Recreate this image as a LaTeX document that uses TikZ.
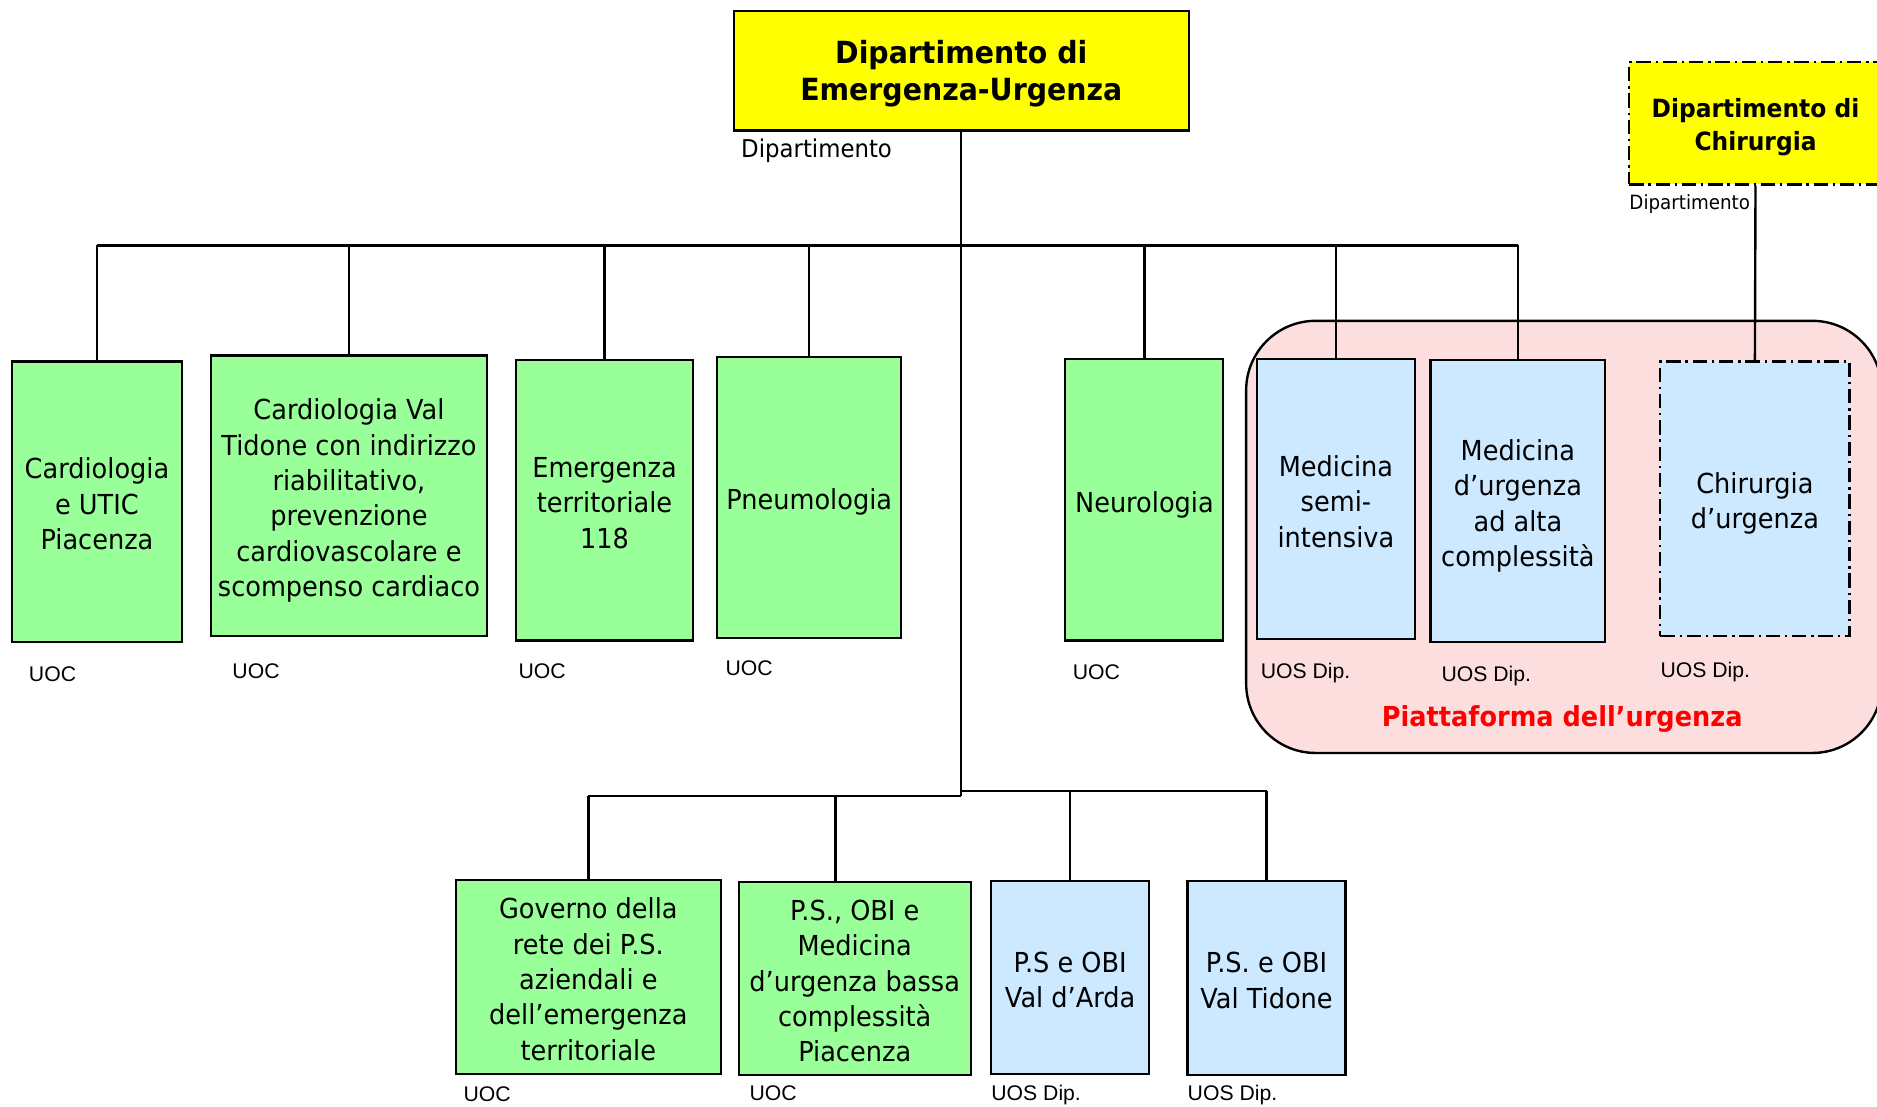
\documentclass[tikz,border=0pt]{standalone}
\usepackage{fontspec}
\setmainfont[FakeStretch=0.93]{DejaVu Sans}
\newfontfamily\arialfont{Liberation Sans}
\definecolor{boxgreen}{HTML}{99FF99}
\definecolor{boxblue}{HTML}{CCE9FF}
\definecolor{platpink}{HTML}{FDDEDF}
\definecolor{deptyellow}{HTML}{FFFF00}
\definecolor{platred}{HTML}{FF0000}
\newcommand\topgap[1]{\rule{0pt}{#1}}
\newcommand\ut{\topgap{26pt}}
\begin{document}
\begin{tikzpicture}[x=1pt,y=-1pt,
  padbottom/.style={execute at end node={\rule[-#1]{0pt}{#1}}},
  unit/.style={draw=black, line width=1.8pt, align=center, inner sep=0pt,
    font=\fontsize{23}{29.5}\selectfont, padbottom=5pt},
  greenbox/.style={unit, fill=boxgreen},
  bluebox/.style={unit, fill=boxblue},
  dashdot/.style={dash pattern=on 12pt off 4pt on 2pt off 4pt},
  dept/.style={draw=black, line width=2pt, fill=deptyellow, align=center, inner sep=0pt},
  conn/.style={draw=black, line width=2pt},
  kind/.style={anchor=base west, inner sep=0pt, font=\arialfont\fontsize{17.7}{20}\selectfont},
  deptlab/.style={anchor=base west, inner sep=0pt}
]
\useasboundingbox (0,0) rectangle (1568,924);
\fill[white] (0,0) rectangle (1568,924);

% platform
\draw[line width=2pt, fill=platpink, rounded corners=58pt] (1041,268) rectangle (1572,629);
\node[anchor=base, inner sep=0pt, text=platred, font=\bfseries\fontsize{23}{28}\selectfont] (plat) at (1305,607) {Piattaforma dell’urgenza};

% departments
\node[dept, minimum width=380pt, minimum height=100pt, font=\bfseries\fontsize{25.5}{31}\selectfont, padbottom=6pt] (main) at (803,59) {\topgap{25pt}Dipartimento di\\Emergenza-Urgenza};
\node[deptlab, font=\fontsize{20.5}{24}\selectfont] (mainlab) at (619,131.5) {Dipartimento};
\node[dept, dashdot, minimum width=211pt, minimum height=102pt, font=\bfseries\fontsize{21}{27}\selectfont, padbottom=5.3pt] (cd) at (1466.5,103) {\topgap{23pt}Dipartimento di\\Chirurgia};
\node[deptlab, font=\fontsize{16.4}{20}\selectfont] (cdlab) at (1361,175) {Dipartimento};

% top row
\node[greenbox, minimum width=142pt, minimum height=234pt] (c1) at (81,419) {\ut Cardiologia\\e UTIC\\Piacenza};
\node[greenbox, minimum width=231pt, minimum height=234pt] (c2) at (291.5,414) {\ut Cardiologia Val\\Tidone con indirizzo\\riabilitativo,\\prevenzione\\cardiovascolare e\\scompenso cardiaco};
\node[greenbox, minimum width=148pt, minimum height=234pt] (c3) at (505,418) {\ut Emergenza\\territoriale\\118};
\node[greenbox, minimum width=154pt, minimum height=235pt] (c4) at (676,415.5) {\ut Pneumologia};
\node[greenbox, minimum width=132pt, minimum height=235pt] (c5) at (956,417.5) {\ut Neurologia};
\node[bluebox, minimum width=132pt, minimum height=234pt] (c6) at (1116,417) {\ut Medicina\\semi-\\intensiva};
\node[bluebox, minimum width=146pt, minimum height=235pt] (c7) at (1268,418.5) {\ut Medicina\\d’urgenza\\ad alta\\complessità};
\node[bluebox, dashdot, minimum width=158pt, minimum height=229pt] (c8) at (1466,416.5) {\ut Chirurgia\\d’urgenza};

% bottom row
\node[greenbox, minimum width=221pt, minimum height=162pt] (d1) at (491.5,816) {\ut Governo della\\rete dei P.S.\\aziendali e\\dell’emergenza\\territoriale};
\node[greenbox, minimum width=194pt, minimum height=161pt] (d2) at (714,817.5) {\ut P.S., OBI e\\Medicina\\d’urgenza bassa\\complessità\\Piacenza};
\node[bluebox, minimum width=132pt, minimum height=161pt] (d3) at (894,816.5) {\ut P.S e OBI\\Val d’Arda};
\node[bluebox, minimum width=132pt, minimum height=162pt] (d4) at (1058,817) {\ut P.S. e OBI\\Val Tidone};

% kind labels
\node[kind] (k1) at (24,569) {UOC};
\node[kind] (k2) at (194,567) {UOC};
\node[kind] (k3) at (433,567) {UOC};
\node[kind] (k4) at (606,564) {UOC};
\node[kind] (k5) at (896,568) {UOC};
\node[kind] (k6) at (1053,567) {UOS Dip.};
\node[kind] (k7) at (1204,569) {UOS Dip.};
\node[kind] (k8) at (1387,566) {UOS Dip.};
\node[kind] (k9) at (387,920) {UOC};
\node[kind] (k10) at (626,919) {UOC};
\node[kind] (k11) at (828,919) {UOS Dip.};
\node[kind] (k12) at (992,919) {UOS Dip.};

% connectors
\coordinate (tb) at (0,205);
\coordinate (bbl) at (0,665);
\coordinate (bbr) at (0,661);
\draw[conn] (main.south) -- (main.south |- bbl);
\draw[conn] (c1.north |- tb) -- (c7.north |- tb);
\draw[conn] (c2.north |- tb) -- (main.south |- tb);
\foreach \n in {c1,c2,c3,c4,c5,c6,c7} {\draw[conn] (\n.north) -- (\n.north |- tb);}
\draw[conn] (d1.north |- bbl) -- (main.south |- bbl);
\draw[conn] (main.south |- bbr) -- (d4.north |- bbr);
\draw[conn] (d1.north) -- (d1.north |- bbl);
\draw[conn] ([xshift=-16pt]d2.north) -- ([xshift=-16pt]d2.north |- bbl);
\draw[conn] (d3.north) -- (d3.north |- bbr);
\draw[conn] (d4.north) -- (d4.north |- bbr);
\draw[conn] (cd.south) -- (c8.north);
\end{tikzpicture}
\end{document}
